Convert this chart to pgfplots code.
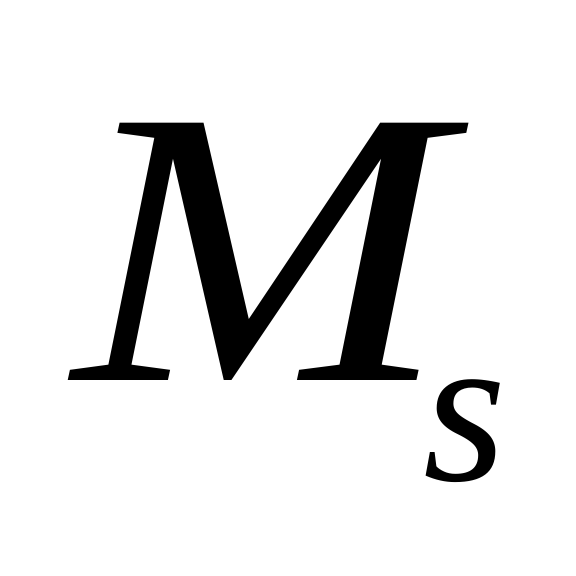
\documentclass[border=0pt]{standalone}
\usepackage{fontspec}
\setmainfont{Liberation Serif}
\usepackage{pgfplots}
\pgfplotsset{compat=1.18}
\begin{document}
\begin{tikzpicture}
\begin{axis}[width=576pt,height=576pt,scale only axis,hide axis,
  xmin=0,xmax=576,ymin=0,ymax=576,clip=false]
\addplot[draw=none,forget plot] coordinates {(0,0) (576,576)};
\node[anchor=base west,inner sep=0pt,xscale=1.145,transform shape,font=\fontsize{393}{393}\selectfont\itshape] at (axis cs:73,195) {M};
\node[anchor=base west,inner sep=0pt,font=\fontsize{214}{214}\selectfont\itshape] at (axis cs:423,95) {s};
\end{axis}
\end{tikzpicture}
\end{document}
